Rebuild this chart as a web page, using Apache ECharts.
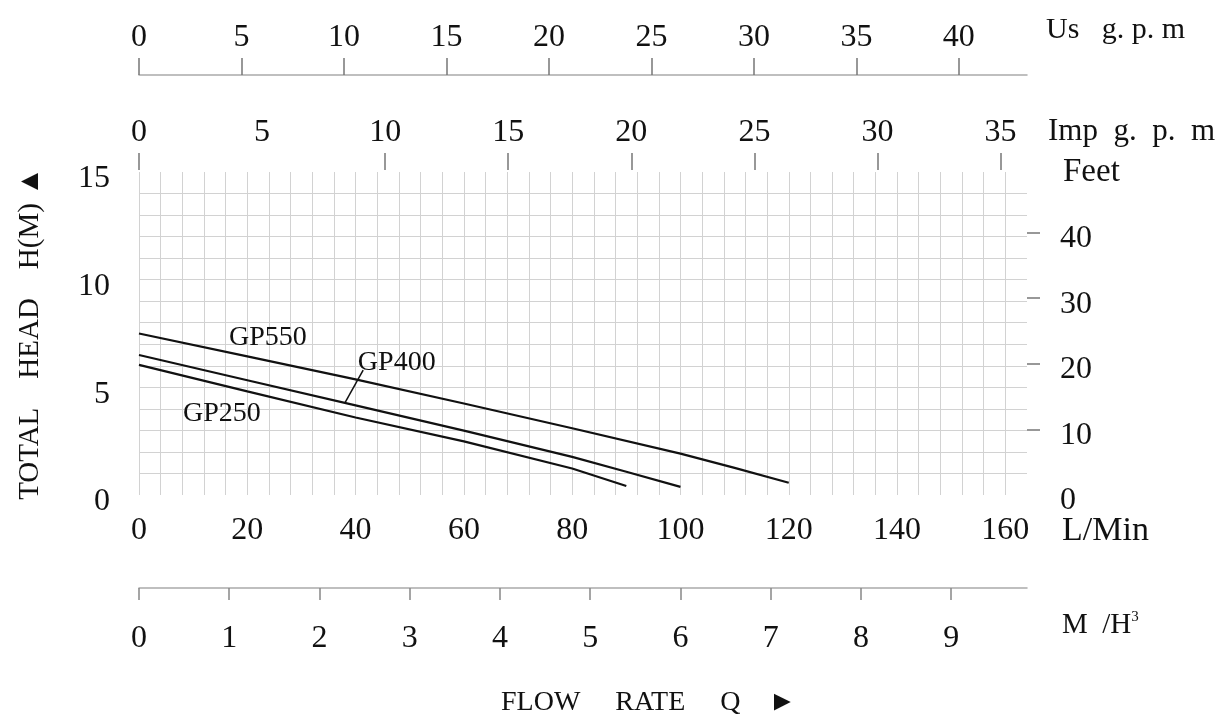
<!DOCTYPE html>
<html>
<head>
<meta charset="utf-8">
<script src="https://cdn.jsdelivr.net/npm/echarts@6/dist/echarts.min.js"></script>
<style>html,body{margin:0;padding:0;background:#fff;}#c{width:1219px;height:718px;}</style>
</head>
<body>
<div id="c"></div>
<script>
// ---- data ----
const gp550Flow = [0, 20, 40, 60, 80, 100, 110, 120];          // L/min
const gp550Head = [7.5, 6.44, 5.37, 4.25, 3.1, 1.92, 1.26, 0.57]; // m
const gp400Flow = [0, 20, 40, 60, 80, 90, 100];
const gp400Head = [6.5, 5.33, 4.16, 2.99, 1.77, 1.08, 0.38];
const gp250Flow = [0, 20, 40, 60, 80, 90];
const gp250Head = [6.04, 4.81, 3.6, 2.49, 1.23, 0.42];

const lpmLabels = [0, 20, 40, 60, 80, 100, 120, 140, 160];
const headLabels = [0, 5, 10, 15];
const usLabels = [0, 5, 10, 15, 20, 25, 30, 35, 40];
const impLabels = [0, 5, 10, 15, 20, 25, 30, 35];
const impTicks = [0, 10, 15, 20, 25, 30, 35];
const m3hLabels = [0, 1, 2, 3, 4, 5, 6, 7, 8, 9];
const feetLabels = [0, 10, 20, 30, 40];
const feetTicks = [10, 20, 30, 40];

// unit conversions for the secondary scales
const LPM_MAX = 164, HEAD_MAX = 15;
const US_GAL = 3.78541, IMP_GAL = 4.54609, M3H_PER_LPM = 0.06, FT = 0.3048;

const FONT = 'Liberation Serif';
const GRID = '#d2d2d2';
const txt = {fontFamily: FONT, fontSize: 32, color: '#111'};
const nameTxt = {fontFamily: FONT, fontSize: 29, color: '#111'};

function pairs(xs, ys) { return xs.map((x, i) => [x, ys[i]]); }
function nameText(text, x, y, size) {
  return {type: 'text', x: x, y: y, silent: true,
    style: {text: text, fill: '#111', font: size + 'px "' + FONT + '"', align: 'left', verticalAlign: 'middle'}};
}

const chart = echarts.init(document.getElementById('c'), null, {renderer: 'canvas'});

const lineStyle = {color: '#111', width: 2.2};
const labelStyle = {show: true, formatter: '{b}', fontFamily: FONT, fontSize: 28, color: '#111'};
const shiftedLabel = (pad) => ({formatter: '{a|{value}}',
  rich: {a: {fontFamily: FONT, fontSize: 32, color: '#111', padding: [pad, 0, 0, 0]}}});

chart.setOption({
  animation: false,
  backgroundColor: '#fff',
  title: {
    text: 'FLOW     RATE     Q    \u25BA',
    left: 496, top: 684,
    textStyle: {fontFamily: FONT, fontSize: 28, fontWeight: 'normal', color: '#111'}
  },
  graphic: [
    nameText('Us   g. p. m', 1046, 30, 30),
    nameText('Imp  g.  p.  m', 1048, 132, 31),
    nameText('Feet', 1063, 172, 33),
    nameText('L/Min', 1062, 531, 34)
  ],
  grid: {left: 139, right: 192, top: 172, bottom: 223, containLabel: false},
  xAxis: [
    { // L/min (main)
      type: 'value', position: 'bottom', min: 0, max: LPM_MAX, interval: 4,
      axisLine: {show: false, onZero: false}, axisTick: {show: false},
      splitLine: {show: true, showMaxLine: false, lineStyle: {color: GRID, width: 1}},
      axisLabel: Object.assign({customValues: lpmLabels, margin: 20}, txt)
    },
    { // m3/h
      type: 'value', position: 'bottom', offset: 93, min: 0, max: LPM_MAX * M3H_PER_LPM, interval: 1,
      axisLine: {show: true, onZero: false, lineStyle: {color: '#aaa', width: 1.5}},
      axisTick: {show: true, length: 12, customValues: m3hLabels, lineStyle: {color: '#888', width: 1.5}},
      splitLine: {show: false},
      axisLabel: Object.assign({customValues: m3hLabels, margin: 35}, txt),
      name: '{a|M  /H}{s|3}', nameLocation: 'end', nameGap: 35, nameMoveOverlap: false,
      nameTextStyle: Object.assign({padding: [74, 0, 0, 0],
        rich: {a: {fontFamily: FONT, fontSize: 29, color: '#111'},
               s: {fontFamily: FONT, fontSize: 15, color: '#111', verticalAlign: 'top', padding: [0, 0, 16, 0]}}}, nameTxt)
    },
    { // US gpm
      type: 'value', position: 'top', offset: 97, min: 0, max: LPM_MAX / US_GAL, interval: 5,
      axisLine: {show: true, onZero: false, lineStyle: {color: '#aaa', width: 1.5}},
      axisTick: {show: true, length: 17, customValues: usLabels, lineStyle: {color: '#777', width: 1.5}},
      splitLine: {show: false},
      axisLabel: Object.assign({customValues: usLabels, margin: 21}, txt)
    },
    { // Imp gpm
      type: 'value', position: 'top', offset: 2, min: 0, max: LPM_MAX / IMP_GAL, interval: 5,
      axisLine: {show: false, onZero: false},
      axisTick: {show: true, length: 17, customValues: impTicks, lineStyle: {color: '#777', width: 1.5}},
      splitLine: {show: false},
      axisLabel: Object.assign({customValues: impLabels, margin: 21}, txt)
    }
  ],
  yAxis: [
    { // Head m
      type: 'value', position: 'left', min: 0, max: HEAD_MAX, interval: 1,
      axisLine: {show: false, onZero: false}, axisTick: {show: false},
      splitLine: {show: true, showMinLine: false, showMaxLine: false, lineStyle: {color: GRID, width: 1}},
      axisLabel: Object.assign({customValues: headLabels, margin: 29}, txt, shiftedLabel(14)),
      name: 'TOTAL    HEAD    H(M) \u25B2', nameLocation: 'middle', nameRotate: 90, nameGap: 94,
      nameMoveOverlap: false,
      nameTextStyle: nameTxt
    },
    { // Feet
      type: 'value', position: 'right', min: 0, max: HEAD_MAX / FT, interval: 10,
      axisLine: {show: false, onZero: false},
      axisTick: {show: true, length: 13, customValues: feetTicks, lineStyle: {color: '#777', width: 1.5}},
      splitLine: {show: false},
      axisLabel: Object.assign({customValues: feetLabels, margin: 33}, txt, shiftedLabel(12))
    }
  ],
  series: [
    {
      name: 'GP550', type: 'line', xAxisIndex: 0, yAxisIndex: 0,
      data: pairs(gp550Flow, gp550Head), showSymbol: false, smooth: false, lineStyle: lineStyle,
      markPoint: {symbol: 'circle', symbolSize: 0, silent: true, label: labelStyle,
        data: [{name: 'GP550', coord: [23.8, 7.3]}]}
    },
    {
      name: 'GP400', type: 'line', xAxisIndex: 0, yAxisIndex: 0,
      data: pairs(gp400Flow, gp400Head), showSymbol: false, smooth: false, lineStyle: lineStyle,
      markPoint: {symbol: 'circle', symbolSize: 0, silent: true, label: labelStyle,
        data: [{name: 'GP400', coord: [47.6, 6.13]}]},
      markLine: {symbol: 'none', silent: true, label: {show: false},
        lineStyle: {color: '#111', width: 1.5, type: 'solid'},
        data: [[{coord: [41.4, 5.8]}, {coord: [38.0, 4.27]}]]}
    },
    {
      name: 'GP250', type: 'line', xAxisIndex: 0, yAxisIndex: 0,
      data: pairs(gp250Flow, gp250Head), showSymbol: false, smooth: false, lineStyle: lineStyle,
      markPoint: {symbol: 'circle', symbolSize: 0, silent: true, label: labelStyle,
        data: [{name: 'GP250', coord: [15.3, 3.76]}]}
    }
  ]
});
</script>
</body>
</html>
